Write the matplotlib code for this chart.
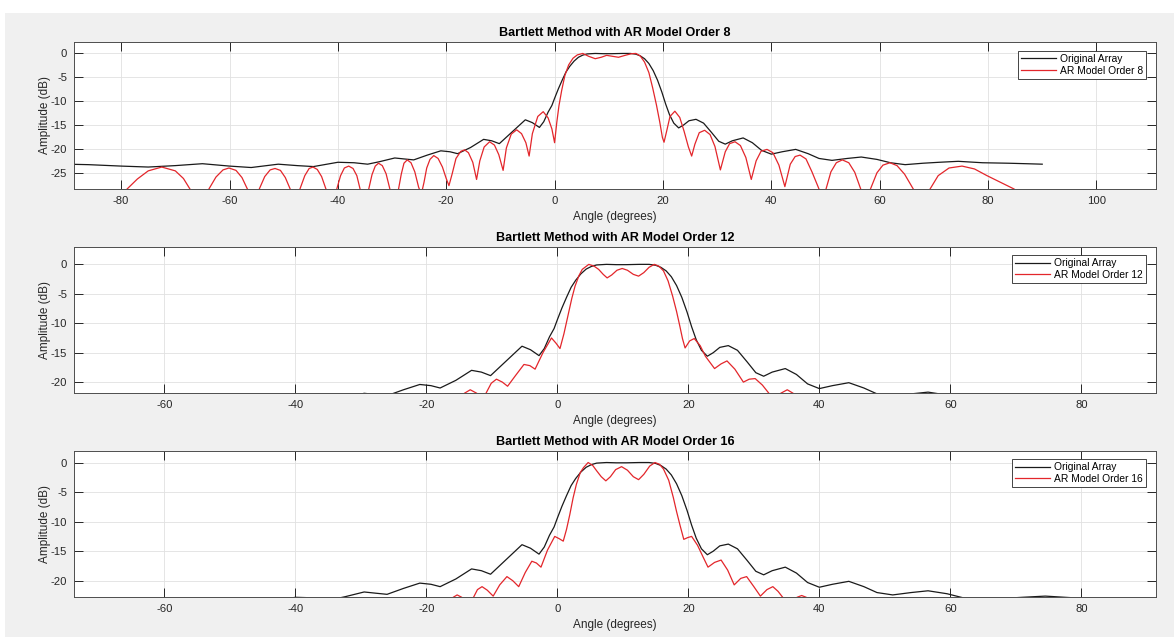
import matplotlib
matplotlib.use("Agg")
import matplotlib.pyplot as plt
from matplotlib.patches import Rectangle

# Original array pattern (same curve in every panel)
ORIGINAL_ANGLE = [-90, -86, -80, -75, -70, -65, -60, -56, -51, -47.5, -44.5, -40, -37, -34.5,
                  -32.4, -29.5, -27.8, -26.0, -23.5, -21.0, -19.3, -17.9, -15.5, -13.1, -11.6,
                  -10.2, -7.8, -5.4, -4.1, -2.8, -2.0, -1.2, -0.5, 0.0, 0.7, 1.4, 2.1, 2.8, 3.6,
                  4.4, 5.2, 6.0, 7.5, 9.0, 10.5, 12.5, 14.0, 15.0, 15.8, 16.6, 17.4, 18.2, 19.0,
                  19.8, 20.5, 21.2, 22.0, 22.9, 23.8, 24.8, 26.1, 27.5, 29.0, 30.3, 31.5, 32.8,
                  34.8, 36.5, 38.2, 40.0, 42.0, 44.5, 46.8, 48.8, 51.2, 54.0, 56.6, 59.5, 62.0,
                  64.7, 68.0, 71.0, 74.5, 79.0, 83.8, 87.0, 90.0]
ORIGINAL_DB = [-23.2, -23.3, -23.6, -23.8, -23.5, -23.1, -23.6, -23.9, -23.2, -23.5, -23.7, -22.8,
               -22.9, -23.2, -22.7, -21.9, -22.1, -22.3, -21.3, -20.4, -20.6, -21.0, -19.7, -18.0,
               -18.3, -18.9, -16.4, -13.9, -14.5, -15.5, -14.3, -12.3, -10.9, -9.4, -7.4, -5.6,
               -3.9, -2.7, -1.6, -0.8, -0.35, -0.1, 0.0, -0.05, -0.05, 0.0, 0.0, -0.15, -0.5,
               -1.1, -2.1, -3.6, -5.6, -8.1, -10.6, -12.8, -14.6, -15.6, -15.0, -14.1, -13.8,
               -14.6, -16.6, -18.4, -19.0, -18.3, -17.7, -18.7, -20.3, -21.1, -20.6, -20.1,
               -21.0, -22.0, -22.4, -22.0, -21.7, -22.2, -22.9, -23.3, -23.0, -22.8, -22.6,
               -22.9, -23.0, -23.1, -23.2]

# AR model order 8
AR8_ANGLE = [-82, -78.9, -77.0, -75.0, -72.5, -70.0, -68.5, -67.3, -65.5, -63.8, -62.5, -61.2,
             -60.1, -58.8, -57.7, -56.7, -55.6, -54.5, -53.5, -52.5, -51.6, -50.6, -49.7, -48.8,
             -47.9, -47.0, -46.1, -45.3, -44.6, -43.8, -43.0, -42.2, -41.2, -40.2, -39.5, -38.8,
             -38.0, -37.2, -36.5, -35.9, -35.1, -34.3, -33.7, -33.1, -32.5, -31.8, -31.1, -30.4,
             -29.6, -28.8, -28.3, -27.8, -27.2, -26.5, -25.8, -25.1, -24.6, -24.1, -23.6, -23.0,
             -22.3, -21.5, -20.7, -20.0, -19.5, -18.9, -18.2, -17.3, -16.6, -15.9, -15.1, -14.4,
             -13.8, -13.0, -12.0, -11.1, -10.3, -9.5, -8.9, -8.0, -7.0, -6.1, -5.3, -4.7, -4.1,
             -3.1, -2.1, -1.2, -0.5, 0.0, 0.4, 0.8, 1.3, 1.9, 2.6, 3.4, 4.2, 5.2, 6.3, 7.5, 8.6,
             9.6, 10.7, 11.8, 13.0, 14.2, 15.0, 15.8, 16.6, 17.4, 18.1, 18.8, 19.4, 19.9, 20.2,
             20.7, 21.3, 22.2, 23.1, 23.9, 24.7, 25.3, 25.9, 26.7, 27.7, 28.7, 29.6, 30.6, 31.5,
             32.3, 33.3, 34.3, 35.3, 36.3, 37.2, 38.1, 39.2, 40.3, 41.4, 42.5, 43.5, 44.4, 45.3,
             46.4, 47.5, 48.8, 49.5, 50.1, 51.0, 52.0, 53.1, 54.3, 55.4, 56.5, 57.4, 58.3, 59.5,
             60.6, 61.9, 63.2, 64.6, 66.2, 67.8, 69.3, 70.8, 72.8, 75.2, 77.5, 79.8, 82.3, 84.8,
             86.5]
AR8_DB = [-33, -28.4, -26.3, -24.6, -23.8, -24.6, -26.2, -28.4, -33, -28.4, -25.9, -24.4,
          -24.0, -24.5, -26.0, -28.4, -33, -28.4, -25.8, -24.4, -24.1, -24.5, -26.0, -28.4,
          -33, -28.4, -25.6, -24.1, -23.8, -24.3, -25.8, -28.4, -33, -28.4, -25.6, -24.0,
          -23.6, -24.1, -25.6, -28.4, -33, -28.4, -25.4, -23.6, -23.0, -23.5, -25.2, -28.4,
          -33, -28.4, -25.3, -23.0, -22.3, -22.9, -24.8, -28.0, -29.5, -27.0, -24.0, -22.2,
          -21.4, -22.0, -23.8, -26.2, -27.7, -25.2, -22.0, -20.5, -20.2, -20.8, -22.8, -26.4,
          -22.5, -19.6, -18.5, -19.2, -21.2, -24.5, -19.8, -16.9, -16.0, -16.8, -18.7, -21.5,
          -16.8, -13.2, -12.2, -13.5, -15.8, -18.7, -14.5, -11.0, -7.8, -4.6, -2.4, -1.0, -0.3,
          0.0, -0.6, -1.1, -0.8, -0.4, -0.6, -0.8, -0.4, -0.05, 0.0, -0.5, -1.8, -4.0, -7.2,
          -10.8, -14.3, -17.6, -18.6, -16.2, -13.2, -12.1, -13.4, -16.3, -19.6, -21.5, -19.0,
          -16.6, -16.1, -17.0, -19.5, -24.4, -20.6, -18.9, -18.5, -19.3, -21.8, -26.4, -22.5,
          -20.5, -20.1, -20.8, -23.4, -27.9, -23.2, -21.6, -21.3, -22.1, -24.8, -28.4, -32,
          -28.4, -24.8, -22.9, -22.3, -22.9, -24.9, -28.4, -33, -28.4, -25.0, -23.4, -22.9,
          -23.5, -25.3, -28.4, -33, -28.4, -25.6, -24.0, -23.6, -24.2, -25.6, -27.0, -28.4,
          -30]

# AR model order 12
AR12_ANGLE = [-15.5, -14.2, -13.3, -12.3, -11.6, -10.9, -10.1, -9.3, -8.4, -7.6, -6.4, -5.1,
              -4.2, -3.4, -2.2, -0.9, -0.2, 0.4, 1.0, 1.6, 2.2, 2.7, 3.3, 3.8, 4.8, 5.6, 6.3,
              7.0, 7.6, 8.3, 9.1, 9.9, 10.7, 11.6, 12.4, 13.2, 14.0, 14.8, 15.5, 16.2, 16.9,
              17.6, 18.2, 18.7, 19.1, 19.5, 20.2, 20.9, 21.8, 22.6, 24.0, 25.0, 25.9, 27.1,
              28.4, 29.3, 30.2, 31.3, 32.3, 33.2, 34.1, 35.1, 36.0, 37.0]
AR12_DB = [-24, -21.9, -21.3, -21.9, -23.0, -21.9, -20.2, -19.5, -20.0, -20.7, -18.9, -17.0,
           -17.2, -17.8, -15.0, -12.5, -13.4, -14.3, -11.8, -8.8, -5.8, -3.7, -1.9, -0.85, 0.0,
           -0.3, -0.85, -1.7, -2.3, -1.8, -1.0, -0.7, -1.0, -1.7, -2.0, -1.4, -0.5, 0.0, -0.3,
           -1.1, -2.8, -5.4, -8.0, -10.5, -12.6, -14.2, -13.0, -12.6, -13.8, -15.6, -17.7,
           -16.9, -16.4, -17.8, -20.0, -19.5, -19.4, -20.5, -21.9, -23.0, -21.9, -21.3, -21.9,
           -23.5]

# AR model order 16
AR16_ANGLE = [-16.5, -15.9, -15.3, -14.6, -14.0, -12.8, -12.2, -11.5, -10.7, -9.8, -8.8, -7.7,
              -6.8, -5.9, -4.9, -3.9, -3.2, -2.5, -1.5, -0.4, 0.3, 0.9, 1.4, 1.9, 2.4, 2.9, 3.5,
              4.0, 4.7, 5.4, 6.0, 6.7, 7.4, 8.1, 8.9, 9.8, 10.7, 11.6, 12.4, 13.2, 14.1, 14.9,
              15.6, 16.2, 17.0, 17.7, 18.2, 18.7, 19.3, 19.9, 20.5, 21.4, 22.3, 23.0, 24.0,
              25.0, 26.0, 27.0, 28.0, 28.9, 30.0, 31.0, 32.0, 32.9, 33.7, 34.4, 35.2, 36.6,
              37.3, 38.0, 38.8]
AR16_DB = [-24, -22.8, -22.4, -22.8, -24, -22.8, -21.5, -21.0, -21.6, -22.6, -20.7, -19.3,
           -20.0, -21.0, -18.6, -16.7, -17.0, -17.7, -14.8, -12.5, -12.9, -13.3, -11.3, -8.8,
           -6.0, -3.7, -1.7, -0.85, 0.0, -0.5, -1.4, -2.4, -3.1, -2.4, -1.2, -0.7, -1.3, -2.4,
           -2.9, -2.0, -0.6, 0.0, -0.3, -1.1, -3.0, -5.9, -8.3, -10.5, -13.0, -12.7, -12.5,
           -14.0, -16.1, -17.7, -16.9, -16.5, -18.2, -20.7, -19.6, -19.3, -21.0, -22.6, -21.5,
           -21.0, -21.8, -22.8, -24, -22.8, -22.5, -22.8, -24]

ORDERS = [8, 12, 16]
AR_ANGLES = [AR8_ANGLE, AR12_ANGLE, AR16_ANGLE]
AR_DBS = [AR8_DB, AR12_DB, AR16_DB]

plt.rcParams["font.family"] = ["Liberation Sans", "DejaVu Sans"]
plt.rcParams["axes.unicode_minus"] = False
TXT = "#262626"

W, H = 1174, 637
fig = plt.figure(figsize=(W / 100, H / 100), dpi=100, facecolor="white")
fig.patches.append(Rectangle((5 / W, 0), 1 - 5 / W, 1 - 13 / H, transform=fig.transFigure,
                             facecolor="#f0f0f0", edgecolor="none", zorder=-10))

# panel layout in pixels: (top, bottom), limits and ticks
panels = [
    dict(top=42, bottom=189, xlim=(-88.7, 111), ylim=(-28.4, 2.4),
         xticks=range(-80, 101, 20), yticks=range(-25, 1, 5), leg_top=0.939),
    dict(top=246.7, bottom=393.3, xlim=(-73.8, 91.4), ylim=(-21.9, 3.0),
         xticks=range(-60, 81, 20), yticks=range(-20, 1, 5), leg_top=0.943),
    dict(top=450.7, bottom=596.7, xlim=(-73.8, 91.4), ylim=(-22.7, 2.0),
         xticks=range(-60, 81, 20), yticks=range(-20, 1, 5), leg_top=0.941),
]
left, right = 74, 1156

for i, p in enumerate(panels):
    ax = fig.add_axes([left / W, 1 - p["bottom"] / H, (right - left) / W,
                       (p["bottom"] - p["top"]) / H])
    ax.set_facecolor("white")
    ax.plot(ORIGINAL_ANGLE, ORIGINAL_DB, color="#1a1a1a", lw=0.9, label="Original Array")
    ax.plot(AR_ANGLES[i], AR_DBS[i], color="#e3262b", lw=0.9,
            label=f"AR Model Order {ORDERS[i]}")
    ax.set_xlim(*p["xlim"])
    ax.set_ylim(*p["ylim"])
    ax.set_xticks(list(p["xticks"]))
    ax.set_yticks(list(p["yticks"]))
    ax.set_axisbelow(True)
    ax.grid(True, color="#e1e1e1", lw=0.6)
    ax.tick_params(direction="in", top=True, right=True, length=6.5, width=0.7,
                   colors=TXT, labelsize=8.1, pad=5)
    for s in ax.spines.values():
        s.set_color("#4d4d4d")
        s.set_linewidth(0.7)
    ax.set_title(f"Bartlett Method with AR Model Order {ORDERS[i]}", fontsize=9.1,
                 fontweight="bold", color="black", pad=4)
    ax.set_xlabel("Angle (degrees)", fontsize=8.5, color=TXT, labelpad=3.5)
    ax.set_ylabel("Amplitude (dB)", fontsize=8.5, color=TXT, labelpad=0)
    leg = ax.legend(loc="upper right", bbox_to_anchor=(0.991, p["leg_top"]), borderaxespad=0,
                    fancybox=False, framealpha=1, edgecolor="#262626", fontsize=7.4,
                    handlelength=3.4, handletextpad=0.4, borderpad=0.3, labelspacing=0.15)
    leg.get_frame().set_linewidth(0.6)

fig.savefig("out.png", dpi=100, facecolor=fig.get_facecolor())
